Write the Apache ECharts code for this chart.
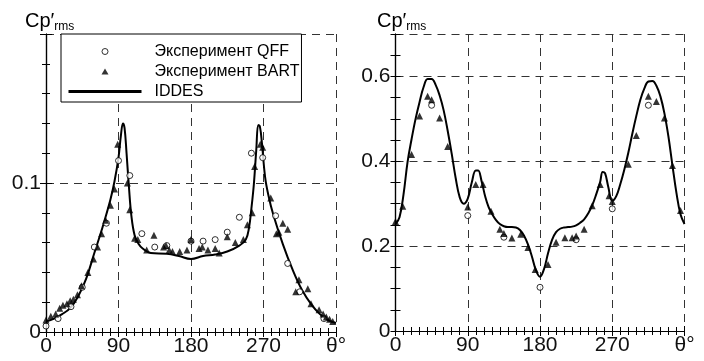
<!DOCTYPE html>
<html>
<head>
<meta charset="utf-8">
<script src="https://cdn.jsdelivr.net/npm/echarts@6/dist/echarts.min.js"></script>
<style>
html,body{margin:0;padding:0;background:#fff;}
#chart{width:704px;height:361px;}
</style>
</head>
<body>
<div id="chart"></div>
<script>
// ---- data (theta in degrees, Cp'rms) ----
const seriesNames = ['Эксперимент QFF', 'Эксперимент BART', 'IDDES'];
const xTickLabels = ['0', '90', '180', '270', 'θ°'];

const leftIddes = [[0,0.007],[10,0.009],[20,0.012],[30,0.016],[40,0.024],[50,0.036],[60,0.053],[70,0.070],[80,0.089],[85,0.101],[90,0.117],[93,0.132],[95.5,0.140],[97.5,0.137],[100,0.120],[103,0.097],[106,0.078],[110,0.065],[115,0.059],[120,0.056],[130,0.053],[150,0.0525],[165,0.051],[180,0.049],[195,0.051],[210,0.052],[225,0.054],[240,0.058],[248,0.062],[252,0.070],[255,0.083],[258,0.099],[261,0.122],[263.5,0.139],[265.5,0.138],[268,0.127],[272,0.104],[276,0.092],[282,0.079],[294,0.059],[306,0.042],[318,0.028],[330,0.018],[340,0.012],[350,0.008],[360,0.006]];
const leftQff = [[0,0.004],[15,0.009],[31,0.017],[45,0.030],[60,0.057],[75,0.073],[90,0.115],[104,0.105],[119,0.066],[135,0.057],[150,0.058],[180,0.061],[195,0.061],[210,0.062],[225,0.067],[240,0.077],[255,0.120],[269,0.117],[285,0.078],[300,0.046],[315,0.027],[345,0.009]];
const leftBart = [[0,0.008],[6,0.0105],[12,0.012],[17,0.016],[21,0.018],[26,0.019],[30,0.021],[34,0.022],[39,0.025],[44,0.031],[52,0.040],[59,0.049],[64,0.057],[69,0.066],[74,0.075],[80,0.085],[85,0.096],[89,0.126],[101,0.100],[104,0.082],[110,0.063],[114,0.062],[125,0.055],[134,0.065],[146,0.057],[149,0.058],[153,0.055],[157,0.054],[166,0.054],[175,0.055],[180,0.062],[190,0.056],[194,0.057],[201,0.055],[210,0.056],[215,0.053],[225,0.064],[235,0.060],[245,0.062],[250,0.072],[256,0.080],[259,0.111],[266,0.126],[269,0.124],[279,0.090],[286,0.066],[289,0.067],[294,0.073],[300,0.069],[310,0.027],[314,0.035],[325,0.029],[329,0.019],[339,0.015],[344,0.012],[348,0.010],[352,0.0085],[356,0.007]];

const rightIddes = [[0,0.252],[5,0.268],[10,0.322],[15,0.398],[20,0.452],[25,0.500],[30,0.540],[35,0.575],[40,0.594],[45,0.594],[50,0.580],[55,0.555],[60,0.52],[65,0.472],[70,0.418],[75,0.36],[80,0.315],[85,0.300],[90,0.312],[95,0.350],[100,0.378],[103,0.378],[107,0.355],[112,0.315],[116,0.292],[120,0.277],[125,0.262],[130,0.252],[135,0.247],[140,0.245],[145,0.245],[150,0.244],[155,0.238],[160,0.225],[165,0.204],[170,0.175],[175,0.143],[180,0.128],[185,0.146],[190,0.183],[195,0.215],[200,0.233],[205,0.241],[210,0.244],[215,0.245],[220,0.246],[225,0.249],[230,0.255],[235,0.263],[240,0.277],[245,0.296],[250,0.322],[255,0.352],[258,0.375],[261,0.372],[265,0.34],[270,0.307],[275,0.318],[280,0.346],[285,0.38],[290,0.42],[295,0.465],[300,0.507],[305,0.545],[310,0.572],[315,0.588],[320,0.589],[325,0.578],[330,0.553],[335,0.513],[340,0.458],[345,0.39],[350,0.325],[355,0.275],[360,0.252]];
const rightQff = [[45,0.532],[90,0.272],[135,0.221],[180,0.103],[225,0.215],[270,0.288],[315,0.532]];
const rightBart = [[0,0.258],[9,0.294],[20,0.416],[30,0.507],[40,0.553],[45,0.545],[55,0.502],[65,0.435],[90,0.292],[100,0.345],[109,0.345],[119,0.282],[130,0.240],[135,0.23],[145,0.219],[156,0.228],[165,0.197],[174,0.145],[190,0.157],[200,0.209],[211,0.220],[220,0.220],[225,0.224],[235,0.240],[245,0.295],[255,0.345],[266,0.319],[270,0.305],[290,0.393],[300,0.461],[315,0.553],[325,0.541],[335,0.502],[345,0.39],[355,0.284]];

// ---- styling ----
const FONT = 'Liberation Sans, Arial, sans-serif';
const axisLine = {show: true, lineStyle: {color: '#000', width: 1.2}};
const dashed = {show: true, lineStyle: {color: '#333', width: 1, type: [8, 6]}};
const titleRich = {
  a: {fontSize: 20, lineHeight: 22, verticalAlign: 'top', color: '#000', fontFamily: FONT, fontWeight: 'normal'},
  b: {fontSize: 12, lineHeight: 14, padding: [12, 0, 0, 0], verticalAlign: 'bottom', color: '#000', fontFamily: FONT, fontWeight: 'normal'}
};

function xAxisDef(grid, pos, withLabels) {
  return {
    type: 'value', gridIndex: grid, position: pos, min: 0, max: 360, interval: 90,
    axisLine: axisLine,
    axisTick: {show: true, inside: true, length: 5, lineStyle: {color: '#000'}},
    minorTick: {show: true, splitNumber: 9, length: 4, lineStyle: {color: '#000'}},
    splitLine: withLabels ? dashed : {show: false},
    axisLabel: withLabels ? {
      show: true, margin: 4, color: '#111', fontSize: 21, fontFamily: FONT,
      formatter: function (v) { return xTickLabels[Math.round(v / 90)]; }
    } : {show: false}
  };
}

const circleStyle = {color: '#fff', borderColor: '#000', borderWidth: 1};
// legend icon: small triangle centred in a 73x6 box (bounds set by the move-to points)
const LEGEND_TRI = 'path://M0,0 M730,60 M365,0 L400,60 L330,60 Z';

const option = {
  animation: false,
  backgroundColor: '#fff',
  title: [
    {left: 25, top: 11, padding: 0, text: "{a|Cp′}{b|rms}", textStyle: {fontWeight: 'normal', rich: titleRich}},
    {left: 377, top: 11, padding: 0, text: "{a|Cp′}{b|rms}", textStyle: {fontWeight: 'normal', rich: titleRich}}
  ],
  legend: {
    data: [
      {name: seriesNames[0], icon: 'circle', itemStyle: {color: '#fff', borderColor: '#000', borderWidth: 1}},
      {name: seriesNames[1], icon: LEGEND_TRI, itemStyle: {color: '#000', borderWidth: 0}},
      {name: seriesNames[2], itemStyle: {color: 'rgba(0,0,0,0)', borderWidth: 0, opacity: 0}, lineStyle: {width: 3, color: '#000'}}
    ],
    left: 61, top: 34, orient: 'vertical',
    itemWidth: 73, itemHeight: 6, itemGap: 3,
    padding: [9, 2, 2, 6],
    borderColor: '#000', borderWidth: 1, backgroundColor: '#fff',
    selectedMode: false,
    textStyle: {fontSize: 16, color: '#000', fontFamily: FONT, lineHeight: 17, padding: [0, 0, 0, 8]}
  },
  grid: [
    {left: 46, top: 34, width: 290, height: 298},
    {left: 395.5, top: 34, width: 289, height: 297}
  ],
  xAxis: [
    xAxisDef(0, 'bottom', true),
    xAxisDef(0, 'top', false),
    xAxisDef(1, 'bottom', true),
    xAxisDef(1, 'top', false)
  ],
  yAxis: [
    {type: 'value', gridIndex: 0, position: 'left', min: 0, max: 0.2, interval: 0.1,
     axisLine: axisLine,
     axisTick: {show: true, inside: true, length: 6, lineStyle: {color: '#000'}},
     minorTick: {show: true, splitNumber: 5, length: 4, lineStyle: {color: '#000'}},
     splitLine: dashed,
     axisLabel: {show: true, margin: 5, color: '#111', fontSize: 21, fontFamily: FONT,
       formatter: function (v) { return v > 0.15 ? '' : (v === 0 ? '0' : String(Math.round(v * 10) / 10)); }}},
    {type: 'value', gridIndex: 0, position: 'right', min: 0, max: 0.2, interval: 0.1,
     axisLine: axisLine,
     axisTick: {show: true, inside: true, length: 6, lineStyle: {color: '#000'}},
     minorTick: {show: true, splitNumber: 5, length: 4, lineStyle: {color: '#000'}},
     splitLine: {show: false}, axisLabel: {show: false}},
    {type: 'value', gridIndex: 1, position: 'left', min: 0, max: 0.7, interval: 0.05,
     axisLine: axisLine,
     axisTick: {show: true, inside: true, length: 5, lineStyle: {color: '#000'}},
     splitLine: {show: false},
     axisLabel: {show: true, margin: 5, color: '#111', fontSize: 21, fontFamily: FONT,
       formatter: function (v) {
         const k = Math.round(v * 100);
         if (k % 20 !== 0 || k > 60) return '';
         return k === 0 ? '0' : String(k / 100);
       }}},
    {type: 'value', gridIndex: 1, position: 'right', min: 0, max: 0.7, interval: 0.05,
     axisLine: axisLine,
     axisTick: {show: true, inside: true, length: 5, lineStyle: {color: '#000'}},
     splitLine: {show: false}, axisLabel: {show: false}},
    {type: 'value', gridIndex: 1, position: 'left', min: 0, max: 0.7, interval: 0.2,
     axisLine: {show: false}, axisTick: {show: false}, axisLabel: {show: false},
     splitLine: dashed}
  ],
  series: [
    {name: 'IDDES', type: 'line', xAxisIndex: 0, yAxisIndex: 0, data: leftIddes,
     showSymbol: false, symbol: 'none', smooth: 0.4,
     lineStyle: {color: '#000', width: 2}, itemStyle: {color: '#000'}, z: 2},
    {name: 'Эксперимент QFF', type: 'scatter', xAxisIndex: 0, yAxisIndex: 0, data: leftQff,
     symbol: 'circle', symbolSize: 6, itemStyle: circleStyle, z: 3},
    {name: 'Эксперимент BART', type: 'scatter', xAxisIndex: 0, yAxisIndex: 0, data: leftBart,
     symbol: 'triangle', symbolSize: 7, itemStyle: {color: '#000'}, z: 4},
    {name: 'IDDES', type: 'line', xAxisIndex: 2, yAxisIndex: 2, data: rightIddes,
     showSymbol: false, symbol: 'none', smooth: 0.4,
     lineStyle: {color: '#000', width: 2}, itemStyle: {color: '#000'}, z: 2},
    {name: 'Эксперимент QFF', type: 'scatter', xAxisIndex: 2, yAxisIndex: 2, data: rightQff,
     symbol: 'circle', symbolSize: 6, itemStyle: circleStyle, z: 3},
    {name: 'Эксперимент BART', type: 'scatter', xAxisIndex: 2, yAxisIndex: 2, data: rightBart,
     symbol: 'triangle', symbolSize: 7, itemStyle: {color: '#000'}, z: 4}
  ]
};

const chart = echarts.init(document.getElementById('chart'), null, {renderer: 'canvas'});
chart.setOption(option);
</script>
</body>
</html>
